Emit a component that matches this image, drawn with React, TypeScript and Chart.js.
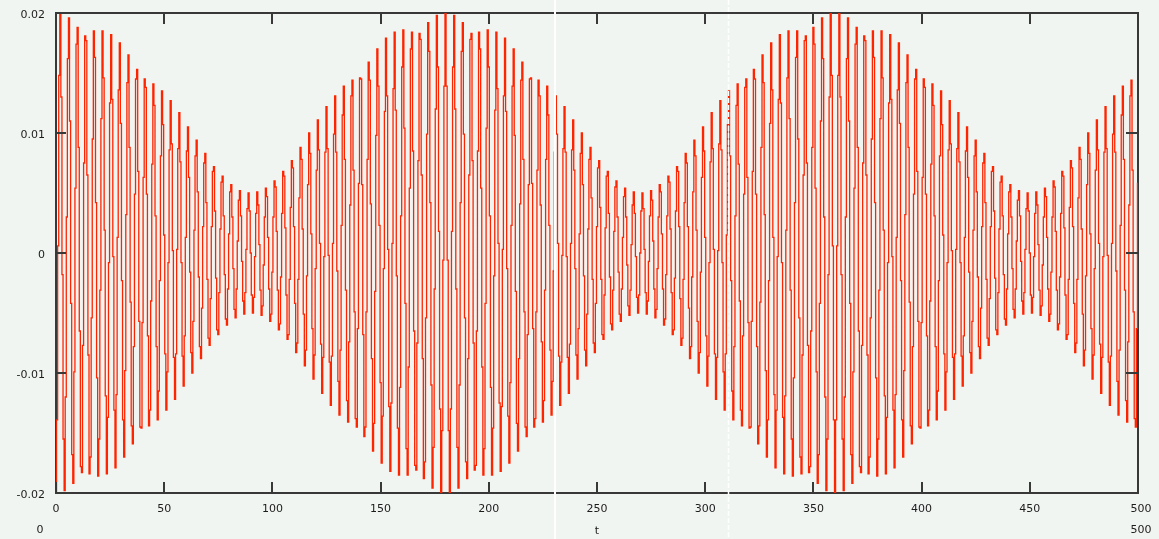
import { useEffect, useRef } from "react";
import { Chart, registerables } from "chart.js";

Chart.register(...registerables);

// ---- axes / labels ----
const T_MIN = 0;
const T_MAX = 500;
const T_STEP = 0.5; // sampling step of the series in t
const Y_MIN = -0.02;
const Y_MAX = 0.02;
const xTicks = [0, 50, 100, 150, 200, 250, 300, 350, 400, 450, 500];
const xTickLabels = ["0", "50", "100", "150", "200", "250", "300", "350", "400", "450", "500"];
const yTicks = [0.02, 0.01, 0, -0.01, -0.02];
const yTickLabels = ["0.02", "0.01", "0", "-0.01", "-0.02"];
const xAxisTitle = "t";
const xRangeLabels = ["0", "500"];
const screenArtifactT = [230.6, 310.5]; // white capture lines seen in the picture

// ---- series values (t = 0 .. 500, step 0.5) ----
const beat1 = [
  -.02, -.0139, .0006, .0148, .02, .013, -.0018, -.0155, -.0198, -.012,
  .003, .0162, .0196, .011, -.0042, -.0168, -.0192, -.0099, .0054, .0174,
  .0188, .0088, -.0065, -.0178, -.0183, -.0077, .0075, .0181, .0177, .0065,
  -.0085, -.0184, -.017, -.0054, .0095, .0185, .0163, .0042, -.0104, -.0186,
  -.0155, -.0031, .0112, .0185, .0146, .0019, -.0119, -.0184, -.0137, -.0008,
  .0125, .0182, .0128, -.0003, -.0131, -.0179, -.0118, .0013, .0136, .0175,
  .0108, -.0023, -.0139, -.017, -.0098, .0032, .0142, .0165, .0088, -.0041,
  -.0144, -.0159, -.0078, .0049, .0145, .0153, .0068, -.0057, -.0145, -.0146,
  -.0058, .0063, .0145, .0138, .0049, -.0069, -.0144, -.0131, -.004, .0074,
  .0141, .0123, .0031, -.0078, -.0139, -.0115, -.0023, .0081, .0135, .0107,
  .0015, -.0084, -.0131, -.0099, -.0008, .0086, .0127, .0091, .0002, -.0087,
  -.0122, -.0084, .0003, .0087, .0117, .0076, -.0008, -.0086, -.0111, -.0069,
  .0013, .0085, .0105, .0063, -.0016, -.0083, -.01, -.0057, .0019, .0081,
  .0094, .0051, -.002, -.0078, -.0088, -.0046, .0022, .0075, .0083, .0042,
  -.0022, -.0071, -.0077, -.0038, .0022, .0068, .0072, .0035, -.0021, -.0064,
  -.0068, -.0033, .002, .0059, .0064, .0031, -.0018, -.0055, -.006, -.003,
  .0016, .0051, .0057, .003, -.0013, -.0047, -.0054, -.003, .001, .0044,
  .0052, .0031, -.0007, -.004, -.0051, -.0033, .0003, .0037, .005, .0035,
  0,
];

const beat2 = [
  -.0035, -.005, -.0037, -.0003, .0033, .0051, .004, .0007, -.0031, -.0052,
  -.0044, -.001, .003, .0054, .0047, .0013, -.003, -.0057, -.0051, -.0016,
  .003, .006, .0055, .0018, -.0031, -.0064, -.0059, -.002, .0033, .0068,
  .0064, .0021, -.0035, -.0072, -.0068, -.0022, .0038, .0077, .0071, .0022,
  -.0042, -.0083, -.0075, -.0022, .0046, .0088, .0078, .002, -.0051, -.0094,
  -.0081, -.0019, .0057, .01, .0083, .0016, -.0063, -.0105, -.0085, -.0013,
  .0069, .0111, .0086, .0008, -.0076, -.0117, -.0087, -.0003, .0084, .0122,
  .0087, -.0002, -.0091, -.0127, -.0086, .0008, .0099, .0131, .0084, -.0015,
  -.0107, -.0135, -.0081, .0023, .0115, .0139, .0078, -.0031, -.0123, -.0141,
  -.0074, .004, .0131, .0144, .0069, -.0049, -.0138, -.0145, -.0063, .0058,
  .0146, .0145, .0057, -.0068, -.0153, -.0145, -.0049, .0078, .0159, .0144,
  .0041, -.0088, -.0165, -.0142, -.0032, .0098, .017, .0139, .0023, -.0108,
  -.0175, -.0136, -.0013, .0118, .0179, .0131, .0003, -.0128, -.0182, -.0125,
  .0008, .0137, .0184, .0119, -.0019, -.0146, -.0185, -.0112, .0031, .0155,
  .0186, .0104, -.0042, -.0163, -.0185, -.0095, .0054, .017, .0184, .0085,
  -.0065, -.0177, -.0181, -.0075, .0077, .0183, .0178, .0065, -.0088, -.0188,
  -.0174, -.0054, .0099, .0192, .0168, .0042, -.011, -.0196, -.0162, -.003,
  .012, .0198, .0155, .0018, -.013, -.02, -.0148, -.0006, .0139, .02,
];

const beat3 = [
  .0139, -.0006, -.0148, -.02, -.013, .0018, .0155, .0198, .012,
  -.003, -.0162, -.0196, -.011, .0042, .0168, .0192, .0099, -.0054, -.0174,
  -.0188, -.0088, .0065, .0178, .0183, .0077, -.0075, -.0181, -.0177, -.0065,
  .0085, .0184, .017, .0054, -.0095, -.0185, -.0163, -.0042, .0104, .0186,
  .0155, .0031, -.0112, -.0185, -.0146, -.0019, .0119, .0184, .0137, .0008,
  -.0125, -.0182, -.0128, .0003, .0131, .0179, .0118, -.0013, -.0136, -.0175,
  -.0108, .0023, .0139, .017, .0098, -.0032, -.0142, -.0165, -.0088, .0041,
  .0144, .0159, .0078, -.0049, -.0145, -.0153, -.0068, .0057, .0145, .0146,
  .0058, -.0063, -.0145, -.0138, -.0049, .0069, .0144, .0131, .004, -.0074,
  -.0141, -.0123, -.0031, .0078, .0139, .0115, .0023, -.0081, -.0135, -.0107,
  -.0015, .0084, .0131, .0099, .0008, -.0086, -.0127, -.0091, -.0002, .0087,
  .0122, .0084, -.0003, -.0087, -.0117, -.0076, .0008, .0086, .0111, .0069,
  -.0013, -.0085, -.0105, -.0063, .0016, .0083, .01, .0057, -.0019, -.0081,
  -.0094, -.0051, .002, .0078, .0088, .0046, -.0022, -.0075, -.0083, -.0042,
  .0022, .0071, .0077, .0038, -.0022, -.0068, -.0072, -.0035, .0021, .0064,
  .0068, .0033, -.002, -.0059, -.0064, -.0031, .0018, .0055, .006, .003,
  -.0016, -.0051, -.0057, -.003, .0013, .0047, .0054, .003, -.001, -.0044,
  -.0052, -.0031, .0007, .004, .0051, .0033, -.0003, -.0037, -.005, -.0035,
  0,
];

const beat4 = [
  .0035, .005, .0037, .0003, -.0033, -.0051, -.004, -.0007, .0031, .0052,
  .0044, .001, -.003, -.0054, -.0047, -.0013, .003, .0057, .0051, .0016,
  -.003, -.006, -.0055, -.0018, .0031, .0064, .0059, .002, -.0033, -.0068,
  -.0064, -.0021, .0035, .0072, .0068, .0022, -.0038, -.0077, -.0071, -.0022,
  .0042, .0083, .0075, .0022, -.0046, -.0088, -.0078, -.002, .0051, .0094,
  .0081, .0019, -.0057, -.01, -.0083, -.0016, .0063, .0105, .0085, .0013,
  -.0069, -.0111, -.0086, -.0008, .0076, .0117, .0087, .0003, -.0084, -.0122,
  -.0087, .0002, .0091, .0127, .0086, -.0008, -.0099, -.0131, -.0084, .0015,
  .0107, .0135, .0081, -.0023, -.0115, -.0139, -.0078, .0031, .0123, .0141,
  .0074, -.004, -.0131, -.0144, -.0069, .0049, .0138, .0145, .0063, -.0058,
  -.0146, -.0145, -.0057, .0068, .0153, .0145, .0049, -.0078, -.0159, -.0144,
  -.0041, .0088, .0165, .0142, .0032, -.0098, -.017, -.0139, -.0023, .0108,
  .0175, .0136, .0013, -.0118, -.0179, -.0131, -.0003, .0128, .0182, .0125,
  -.0008, -.0137, -.0184, -.0119, .0019, .0146, .0185, .0112, -.0031, -.0155,
  -.0186, -.0104, .0042, .0163, .0185, .0095, -.0054, -.017, -.0184, -.0085,
  .0065, .0177, .0181, .0075, -.0077, -.0183, -.0178, -.0065, .0088, .0188,
  .0174, .0054, -.0099, -.0192, -.0168, -.0042, .011, .0196, .0162, .003,
  -.012, -.0198, -.0155, -.0018, .013, .02, .0148, .0006, -.0139, -.02,
];

const beat5 = [
  -.0139, .0006, .0148, .02, .013, -.0018, -.0155, -.0198, -.012,
  .003, .0162, .0196, .011, -.0042, -.0168, -.0192, -.0099, .0054, .0174,
  .0188, .0088, -.0065, -.0178, -.0183, -.0077, .0075, .0181, .0177, .0065,
  -.0085, -.0184, -.017, -.0054, .0095, .0185, .0163, .0042, -.0104, -.0186,
  -.0155, -.0031, .0112, .0185, .0146, .0019, -.0119, -.0184, -.0137, -.0008,
  .0125, .0182, .0128, -.0003, -.0131, -.0179, -.0118, .0013, .0136, .0175,
  .0108, -.0023, -.0139, -.017, -.0098, .0032, .0142, .0165, .0088, -.0041,
  -.0144, -.0159, -.0078, .0049, .0145, .0153, .0068, -.0057, -.0145, -.0146,
  -.0058, .0063, .0145, .0138, .0049, -.0069, -.0144, -.0131, -.004, .0074,
  .0141, .0123, .0031, -.0078, -.0139, -.0115, -.0023, .0081, .0135, .0107,
  .0015, -.0084, -.0131, -.0099, -.0008, .0086, .0127, .0091, .0002, -.0087,
  -.0122, -.0084, .0003, .0087, .0117, .0076, -.0008, -.0086, -.0111, -.0069,
  .0013, .0085, .0105, .0063, -.0016, -.0083, -.01, -.0057, .0019, .0081,
  .0094, .0051, -.002, -.0078, -.0088, -.0046, .0022, .0075, .0083, .0042,
  -.0022, -.0071, -.0077, -.0038, .0022, .0068, .0072, .0035, -.0021, -.0064,
  -.0068, -.0033, .002, .0059, .0064, .0031, -.0018, -.0055, -.006, -.003,
  .0016, .0051, .0057, .003, -.0013, -.0047, -.0054, -.003, .001, .0044,
  .0052, .0031, -.0007, -.004, -.0051, -.0033, .0003, .0037, .005, .0035,
  0,
];

const beat6 = [
  -.0035, -.005, -.0037, -.0003, .0033, .0051, .004, .0007, -.0031, -.0052,
  -.0044, -.001, .003, .0054, .0047, .0013, -.003, -.0057, -.0051, -.0016,
  .003, .006, .0055, .0018, -.0031, -.0064, -.0059, -.002, .0033, .0068,
  .0064, .0021, -.0035, -.0072, -.0068, -.0022, .0038, .0077, .0071, .0022,
  -.0042, -.0083, -.0075, -.0022, .0046, .0088, .0078, .002, -.0051, -.0094,
  -.0081, -.0019, .0057, .01, .0083, .0016, -.0063, -.0105, -.0085, -.0013,
  .0069, .0111, .0086, .0008, -.0076, -.0117, -.0087, -.0003, .0084, .0122,
  .0087, -.0002, -.0091, -.0127, -.0086, .0008, .0099, .0131, .0084, -.0015,
  -.0107, -.0135, -.0081, .0023, .0115, .0139, .0078, -.0031, -.0123, -.0141,
  -.0074, .004, .0131, .0144, .0069, -.0049, -.0138, -.0145, -.0063, .0058,
];

const signal = [...beat1, ...beat2, ...beat3, ...beat4, ...beat5, ...beat6];

// ---- styles ----
const BG = "#f1f5f2";
const RED = "rgb(255,36,0)";
const AXIS = "#383838";
const TEXT = "#1c1c1c";
const FONT = "11px 'DejaVu Sans', sans-serif";

const framePlugin = {
  id: "mathcadFrame",
  beforeDraw(chart: any) {
    const { ctx, width, height } = chart;
    ctx.save();
    ctx.fillStyle = BG;
    ctx.fillRect(0, 0, width, height);
    ctx.restore();
  },
  beforeDatasetsDraw(chart: any) {
    const { ctx, chartArea: a } = chart;
    ctx.save();
    ctx.strokeStyle = AXIS;
    ctx.lineWidth = 2;
    ctx.strokeRect(a.left, a.top, a.right - a.left, a.bottom - a.top);
    ctx.restore();
  },
  afterDatasetsDraw(chart: any) {
    const { ctx, chartArea: a, scales } = chart;
    const xs = scales.x;
    const ys = scales.y;
    ctx.save();
    ctx.strokeStyle = AXIS;
    ctx.lineWidth = 2;
    ctx.beginPath();
    xTicks.forEach((v) => {
      const px = Math.round(xs.getPixelForValue(v));
      ctx.moveTo(px, a.bottom);
      ctx.lineTo(px, a.bottom - 11);
      ctx.moveTo(px, a.top);
      ctx.lineTo(px, a.top + 11);
    });
    yTicks.forEach((v) => {
      const py = Math.round(ys.getPixelForValue(v));
      ctx.moveTo(a.left, py);
      ctx.lineTo(a.left + 10, py);
      ctx.moveTo(a.right, py);
      ctx.lineTo(a.right - 12, py);
    });
    ctx.stroke();

    ctx.fillStyle = TEXT;
    ctx.font = FONT;
    ctx.textBaseline = "middle";
    ctx.textAlign = "right";
    yTicks.forEach((v, i) => {
      const py = ys.getPixelForValue(v);
      ctx.fillText(yTickLabels[i], a.left - 11, py + 2);
    });
    ctx.textAlign = "center";
    xTicks.forEach((v, i) => {
      const px = xs.getPixelForValue(v);
      const shift = i === xTicks.length - 1 ? 3 : 0;
      ctx.fillText(xTickLabels[i], px + shift, a.bottom + 16);
    });
    ctx.fillText(xAxisTitle, (a.left + a.right) / 2, a.bottom + 38);
    ctx.fillText(xRangeLabels[0], a.left - 16, a.bottom + 37);
    ctx.fillText(xRangeLabels[1], a.right + 3, a.bottom + 37);

    // white capture lines
    ctx.strokeStyle = "#ffffff";
    const p1 = Math.round(xs.getPixelForValue(screenArtifactT[0]));
    ctx.lineWidth = 2;
    ctx.beginPath();
    ctx.moveTo(p1, 0);
    ctx.lineTo(p1, chart.height);
    ctx.stroke();
    const p2 = Math.round(xs.getPixelForValue(screenArtifactT[1])) + 0.5;
    ctx.lineWidth = 1.5;
    ctx.setLineDash([5, 2]);
    ctx.beginPath();
    ctx.moveTo(p2, 0);
    ctx.lineTo(p2, chart.height);
    ctx.stroke();
    ctx.restore();
  },
};

export default function App() {
  const ref = useRef<HTMLCanvasElement>(null);
  useEffect(() => {
    document.body.style.margin = "0";
    document.body.style.background = BG;
    const canvas = ref.current;
    if (!canvas) return;
    const points = signal.map((y, i) => ({ x: T_MIN + i * T_STEP, y }));
    const chart = new Chart(canvas, {
      type: "line",
      data: {
        datasets: [
          {
            data: points,
            borderColor: RED,
            borderWidth: 1.3,
            pointRadius: 0,
            stepped: "middle",
            fill: false,
          },
        ],
      },
      options: {
        animation: false,
        responsive: false,
        devicePixelRatio: 1,
        parsing: false,
        normalized: true,
        events: [],
        layout: { padding: { left: 56, right: 21, top: 13, bottom: 46 } },
        scales: {
          x: { type: "linear", min: T_MIN, max: T_MAX, display: false },
          y: { type: "linear", min: Y_MIN, max: Y_MAX, display: false },
        },
        plugins: { legend: { display: false }, tooltip: { enabled: false } },
      } as any,
      plugins: [framePlugin],
    });
    return () => chart.destroy();
  }, []);
  return <canvas ref={ref} width={1159} height={539} style={{ display: "block" }} />;
}
